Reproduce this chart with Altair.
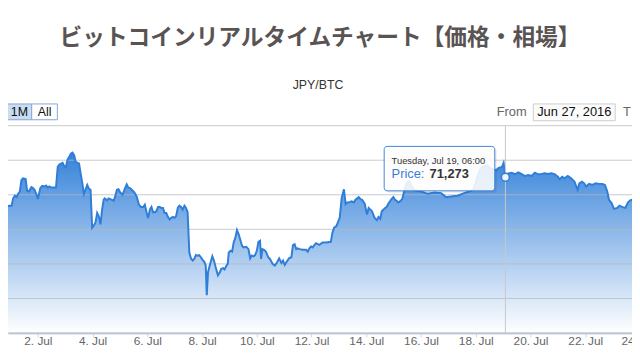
import altair as alt
import pandas as pd

# ---------------- data ----------------
# hours after 2016-07-02 00:00 UTC, and price in JPY per BTC
hours_after_jul2 = [
    -40.0, -33.2, -31.7, -30.3, -28.8, -27.4, -24.5, -23.1, -21.6, -20.2, -18.7, -17.3,
    -15.8, -14.4, -13.0, -10.7, -9.5, -7.8, -5.7, -4.3, -2.9, -0.8, 0.0, 2.1, 3.8, 5.8,
    7.2, 8.7, 10.1, 11.6, 13.0, 15.9, 17.4, 18.8, 21.7, 23.1, 24.6, 26.0, 27.4, 28.9,
    30.3, 31.8, 33.2, 34.7, 36.1, 37.5, 39.0, 40.4, 41.9, 43.3, 44.8, 46.2, 47.6, 49.1,
    50.5, 52.0, 53.4, 54.9, 56.3, 57.7, 58.6, 60.6, 62.1, 65.0, 66.4, 67.8, 69.3, 70.7,
    72.2, 74.2, 76.5, 77.9, 79.4, 80.8, 82.3, 84.6, 86.6, 88.6, 90.4, 92.4, 93.8, 95.3,
    96.7, 98.2, 99.6, 101.0, 102.5, 103.9, 105.4, 106.8, 108.3, 109.7, 111.1, 112.6,
    114.0, 115.5, 116.9, 118.4, 119.8, 121.2, 122.7, 124.1, 125.6, 127.0, 128.5, 129.9,
    131.3, 132.8, 134.2, 135.7, 137.1, 138.6, 140.0, 141.4, 142.9, 144.3, 145.8, 147.2,
    148.1, 149.2, 150.7, 153.0, 154.4, 155.9, 157.9, 159.6, 160.8, 162.5, 163.7, 165.4,
    166.5, 167.4, 168.9, 170.3, 171.7, 173.2, 174.6, 176.1, 177.5, 179.0, 180.4, 182.7,
    184.7, 186.2, 187.6, 189.1, 190.5, 192.0, 193.4, 194.8, 195.7, 196.9, 198.3, 200.0,
    202.0, 203.5, 205.8, 207.8, 209.8, 211.6, 213.6, 215.0, 216.5, 217.9, 220.2, 222.3,
    223.7, 225.1, 226.6, 228.0, 229.5, 232.4, 235.2, 236.7, 238.1, 239.6, 241.0, 242.4,
    243.9, 246.8, 249.7, 252.6, 256.9, 258.3, 259.8, 261.8, 263.5, 264.7, 266.4, 268.4,
    269.9, 271.3, 272.8, 275.1, 277.1, 278.5, 281.4, 282.9, 284.3, 286.6, 288.6, 290.1,
    291.5, 293.0, 295.3, 297.3, 298.7, 300.2, 301.6, 303.1, 304.5, 305.9, 307.4, 310.3,
    311.7, 313.2, 314.6, 316.1, 317.5, 319.5, 321.2, 323.3, 325.3, 327.6, 330.5, 336.2,
    342.0, 347.8, 353.6, 357.9, 362.2, 368.0, 373.8, 378.1, 381.8, 383.9, 385.3, 388.2,
    391.1, 394.0, 396.9, 399.7, 402.1, 404.1, 407.0, 408.4, 409.6, 410.0, 412.7, 415.6,
    418.5, 421.4, 424.3, 427.2, 430.0, 432.9, 435.8, 438.7, 441.6, 444.5, 447.4, 450.2,
    453.1, 456.0, 457.5, 459.8, 461.8, 464.7, 467.6, 470.5, 473.3, 474.8, 477.1, 479.1,
    480.6, 483.4, 486.3, 489.2, 492.1, 495.0, 497.3, 499.3, 500.8, 503.1, 505.1, 508.0,
    510.0, 512.3, 515.2, 517.5, 519.5, 520.9, 526.0,
]
price_jpy = [
    66200, 66240, 66310, 67500, 67620, 69170, 69210, 69210, 69760, 69930, 69830, 70070,
    70240, 71070, 71190, 71140, 70310, 70240, 70550, 70480, 70360, 69930, 69690, 70480, 70640, 70600,
    70670, 70520, 70600, 70520, 70520, 70520, 72020, 72190, 72310, 72070, 72020, 72550, 72740, 72980,
    73050, 72860, 72380, 72310, 72260, 71550, 70830, 70070, 70400, 70710, 70430, 70360, 67620, 67790,
    67980, 68690, 68450, 67860, 68930, 69640, 69740, 69600, 69740, 69640, 69570, 69880, 70360, 70400,
    70170, 70000, 70480, 70760, 70520, 70480, 70360, 70170, 69880, 69290, 69120, 69120, 69290, 68740,
    68310, 68930, 69120, 68740, 68740, 68810, 69120, 69120, 69050, 69050, 68690, 68690,
    68400, 68210, 68330, 68400, 68330, 68450, 69050, 69210, 69120, 68930, 69210, 69050,
    68740, 65830, 65400, 65240, 65360, 65640, 65600, 65640, 65480, 65310, 65170, 64880,
    62740, 64400, 64880, 65550, 65240, 64760, 64170, 64400, 64640, 64690, 64600, 64880,
    65000, 65830, 65950, 65880, 66550, 66900, 67450, 67140, 66740, 66310, 66190, 66240,
    66070, 65400, 65600, 65550, 65640, 65950, 66600, 66670, 65360, 66070, 66020, 65880,
    65480, 65360, 65000, 64880, 65120, 65400, 65070, 65240, 64930, 65120, 65400, 65480,
    66360, 66430, 66070, 66120, 66070, 66020, 66020, 65880, 66120, 66260, 66190, 66360,
    66500, 66380, 66550, 66550, 66600, 67260, 67620, 67740, 68100, 68330, 69760, 70400,
    69330, 69450, 69450, 69520, 69450, 69640, 69830, 69690, 69640, 69360, 68570, 69050,
    68930, 68810, 68330, 68170, 68400, 68260, 68810, 68930, 69050, 69120, 69360, 69710,
    69830, 69640, 69570, 69450, 69520, 69690, 70240, 70830, 71000, 70600, 70310, 70240,
    70070, 70170, 70120, 69830, 69880, 69930, 70120, 70240, 70360, 70830, 71310, 71900,
    72070, 72140, 71900, 71830, 71790, 71950, 72020, 72310, 71600, 71273, 71550, 71600,
    71500, 71620, 71500, 71360, 71430, 71360, 71600, 71480, 71500, 71550, 71500, 71550,
    71500, 71310, 71120, 71310, 71190, 71360, 71190, 70950, 70360, 70830, 70950, 70830,
    70600, 70790, 70710, 70830, 70790, 70790, 70710, 70240, 69640, 69400, 68980, 69050,
    69210, 69120, 69050, 69450, 69600, 69640, 69690,
]

tick_days_july = [2, 4, 6, 8, 10, 12, 14, 16, 18, 20, 22]
cut_tick_label = "24. Jul"
y_grid_values = [60000, 62500, 65000, 67500, 70000, 72500, 75000]
y_range = [60000, 75000]
x_range_hours = [-26.2, 521.0]

hover_hours = 410.0
hover_price = 71273
hover_label = "Tuesday, Jul 19, 06:00"

title_text = "ビットコインリアルタイムチャート【価格・相場】"
subtitle_text = "JPY/BTC"
button_labels = ["1M", "All"]
from_label = "From"
from_date = "Jun 27, 2016"
to_label = "T"

# ---------------- build ----------------
T0 = pd.Timestamp("2016-07-02", tz="UTC").value // 10**6
HOUR = 3600 * 1000
DAY = 24 * HOUR

df = pd.DataFrame({"t": [T0 + h * HOUR for h in hours_after_jul2], "price": price_jpy})
hover_df = pd.DataFrame({"t": [T0 + hover_hours * HOUR], "price": [hover_price]})
grid_df = pd.DataFrame({"price": y_grid_values})
one = alt.Data(values=[{"k": 0}])

W, H = 632, 210
BLUE = "#2f7ed8"
LABEL_FONT = "Liberation Sans"

x_enc = alt.X(
    "t:T",
    scale=alt.Scale(type="utc", domain=[T0 + x_range_hours[0] * HOUR, T0 + x_range_hours[1] * HOUR]),
    axis=alt.Axis(
        values=[T0 + (d - 2) * DAY for d in tick_days_july],
        labelExpr="utcFormat(datum.value, '%-d. %b')",
        title=None,
        grid=False,
        domainColor="#c6d0de",
        domainWidth=2,
        tickColor="#ccd6eb",
        tickSize=4,
        labelPadding=4,
        labelBaseline="middle",
        labelFont=LABEL_FONT,
        labelFontSize=12,
        labelColor="#666666",
        labelOverlap=False,
        labelFlush=False,
        labelBound=False,
    ),
)
y_enc = alt.Y(
    "price:Q",
    scale=alt.Scale(domain=y_range, zero=False, nice=False),
    axis=None,
)

base = alt.Chart(df)

area = base.mark_area(
    clip=True,
    color=alt.Gradient(
        gradient="linear",
        stops=[
            alt.GradientStop(color="rgba(47,126,216,0.97)", offset=0),
            alt.GradientStop(color="rgba(47,126,216,0.0)", offset=1),
        ],
        x1=0, x2=0, y1=0, y2=1,
    ),
).encode(x=x_enc, y=y_enc, y2=alt.datum(y_range[0]))

grid = alt.Chart(grid_df).mark_rule(color="#b4b9c0", strokeWidth=1, opacity=0.75).encode(
    y=alt.Y("price:Q", axis=None), x=alt.value(0), x2=alt.value(W)
)

line = base.mark_line(clip=True, color=BLUE, strokeWidth=2).encode(x="t:T", y="price:Q")

crosshair = alt.Chart(hover_df).mark_rule(color="#c8c8c8", strokeWidth=1).encode(
    x="t:T", y=alt.value(0), y2=alt.value(H)
)
marker = alt.Chart(hover_df).mark_point(
    shape="circle", filled=True, fill="white", fillOpacity=0.9, stroke=BLUE,
    strokeWidth=1.5, size=64, opacity=1,
).encode(x="t:T", y="price:Q")

cut_label = alt.Chart(one).mark_text(
    align="center", baseline="middle", font=LABEL_FONT, fontSize=12, color="#666666"
).encode(x=alt.value(639), y=alt.value(H + 8), text=alt.value(cut_tick_label))

# tooltip
tip_shadow = alt.Chart(one).mark_rect(fill="black", opacity=0.08, cornerRadius=3).encode(
    x=alt.value(383), x2=alt.value(495), y=alt.value(23), y2=alt.value(68)
)
tip_box = alt.Chart(one).mark_rect(
    fill="white", fillOpacity=0.88, stroke="#3f87d8", strokeWidth=1, cornerRadius=3
).encode(x=alt.value(381), x2=alt.value(493), y=alt.value(21), y2=alt.value(66))
tip_date = alt.Chart(one).mark_text(
    align="left", baseline="middle", font=LABEL_FONT, fontSize=9.5, color="#333333"
).encode(x=alt.value(388.5), y=alt.value(36), text=alt.value(hover_label))
tip_name = alt.Chart(one).mark_text(
    align="left", baseline="middle", font=LABEL_FONT, fontSize=13, color="#3a7fd6"
).encode(x=alt.value(388.5), y=alt.value(49.5), text=alt.value("Price: "))
tip_val = alt.Chart(one).mark_text(
    align="left", baseline="middle", font=LABEL_FONT, fontSize=13,
    fontWeight="bold", color="#333333"
).encode(x=alt.value(427), y=alt.value(49.5), text=alt.value(f"{hover_price:,}"))

# titles
title = alt.Chart(one).mark_text(
    align="center", baseline="middle", font="Noto Sans CJK JP", fontWeight="bold",
    fontSize=23, color="#595353"
).encode(x=alt.value(316), y=alt.value(-89), text=alt.value(title_text))
subtitle = alt.Chart(one).mark_text(
    align="center", baseline="middle", font=LABEL_FONT, fontSize=12.5, color="#333333"
).encode(x=alt.value(314), y=alt.value(-41), text=alt.value(subtitle_text))

# range selector buttons
btn1 = alt.Chart(one).mark_rect(fill="#c8dcf2", stroke="#8aa6cb", strokeWidth=1).encode(
    x=alt.value(-5), x2=alt.value(24), y=alt.value(-22), y2=alt.value(-6)
)
btn2 = alt.Chart(one).mark_rect(fill="white", stroke="#8aa6cb", strokeWidth=1).encode(
    x=alt.value(24), x2=alt.value(50), y=alt.value(-22), y2=alt.value(-6)
)
btn1_t = alt.Chart(one).mark_text(
    align="center", baseline="middle", font=LABEL_FONT, fontSize=12.5, color="#111111"
).encode(x=alt.value(11.5), y=alt.value(-13.5), text=alt.value(button_labels[0]))
btn2_t = alt.Chart(one).mark_text(
    align="center", baseline="middle", font=LABEL_FONT, fontSize=12.5, color="#111111"
).encode(x=alt.value(37), y=alt.value(-13.5), text=alt.value(button_labels[1]))

from_t = alt.Chart(one).mark_text(
    align="left", baseline="middle", font=LABEL_FONT, fontSize=13, color="#666666"
).encode(x=alt.value(495), y=alt.value(-13.5), text=alt.value(from_label))
date_box = alt.Chart(one).mark_rect(fill="#fbfbfb", stroke="#cccccc", strokeWidth=1).encode(
    x=alt.value(532), x2=alt.value(615), y=alt.value(-22), y2=alt.value(-5)
)
date_t = alt.Chart(one).mark_text(
    align="center", baseline="middle", font=LABEL_FONT, fontSize=13, color="#111111"
).encode(x=alt.value(573.5), y=alt.value(-13.5), text=alt.value(from_date))
to_t = alt.Chart(one).mark_text(
    align="left", baseline="middle", font=LABEL_FONT, fontSize=13, color="#666666"
).encode(x=alt.value(623), y=alt.value(-13.5), text=alt.value(to_label))

chart = alt.layer(
    area, grid, line, crosshair, marker, cut_label,
    tip_shadow, tip_box, tip_date, tip_name, tip_val,
    title, subtitle, btn1, btn2, btn1_t, btn2_t,
    from_t, date_box, date_t, to_t,
).properties(
    width=W, height=H,
    autosize=alt.AutoSizeParams(type="none"),
    padding={"left": 0, "top": 117, "right": 0, "bottom": 13},
    background="white",
).configure_view(stroke=None)

chart.save("out.html", embed_options={"renderer": "svg", "actions": False})
